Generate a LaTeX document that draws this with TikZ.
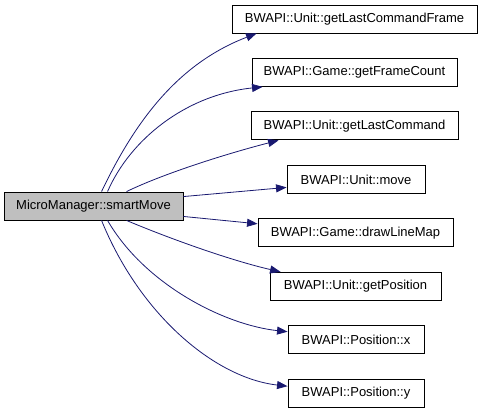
\documentclass[tikz,border=0pt]{standalone}
\usepackage{fontspec}
\setmainfont{Liberation Sans}
\usetikzlibrary{arrows.meta,calc}
\definecolor{edgecol}{HTML}{191970}
\definecolor{mainfill}{HTML}{BFBFBF}
\begin{document}
\begin{tikzpicture}[x=1pt,y=-1pt,
  box/.style={draw=black,line width=0.9pt,minimum height=28pt,inner sep=0pt,font=\fontsize{13}{15}\selectfont,fill=white},
  mainbox/.style={box,fill=mainfill},
  edge/.style={draw=edgecol,line width=0.8pt,-{Triangle[length=10.5pt,width=8pt]}}]
\useasboundingbox (0,0) rectangle (485,413);
\node[mainbox,minimum width=179pt] (m) at (93.5,206) {MicroManager::smartMove};
\node[box,minimum width=245pt] (b1) at (354.5,19) {BWAPI::Unit::getLastCommandFrame};
\node[box,minimum width=205pt] (b2) at (354.5,72.4) {BWAPI::Game::getFrameCount};
\node[box,minimum width=207pt] (b3) at (354.5,125.9) {BWAPI::Unit::getLastCommand};
\node[box,minimum width=138pt] (b4) at (356,179.4) {BWAPI::Unit::move};
\node[box,minimum width=195pt] (b5) at (355.5,232.8) {BWAPI::Game::drawLineMap};
\node[box,minimum width=171pt] (b6) at (355.5,286.3) {BWAPI::Unit::getPosition};
\node[box,minimum width=136pt] (b7) at (356,339.7) {BWAPI::Position::x};
\node[box,minimum width=136pt] (b8) at (356,393.2) {BWAPI::Position::y};
\draw[edge] ($(m.north west)+(98,0)$) .. controls (138,115) and (182,62) .. ($(b1.south west)+(25,0)$);
\draw[edge] ($(m.north west)+(104,0)$) .. controls (130,140) and (185,95) .. ($(b2.south west)+(11,0)$);
\draw[edge] ($(m.north west)+(123,0)$) .. controls (167,172) and (233,152) .. ($(b3.south west)+(28,0)$);
\draw[edge] ($(m.north east)+(0,5)$) -- ($(b4.west)+(0,8)$);
\draw[edge] ($(m.south east)+(0,-4)$) -- ($(b5.west)+(0,-9)$);
\draw[edge] ($(m.south west)+(123,0)$) .. controls (173,240) and (233,261) .. ($(b6.north west)+(11,0)$);
\draw[edge] ($(m.south west)+(104,0)$) .. controls (145,285) and (225,325) .. ($(b7.west)+(0,-8)$);
\draw[edge] ($(m.south west)+(98,0)$) .. controls (140,315) and (215,378) .. ($(b8.west)+(0,-7)$);
\end{tikzpicture}
\end{document}
